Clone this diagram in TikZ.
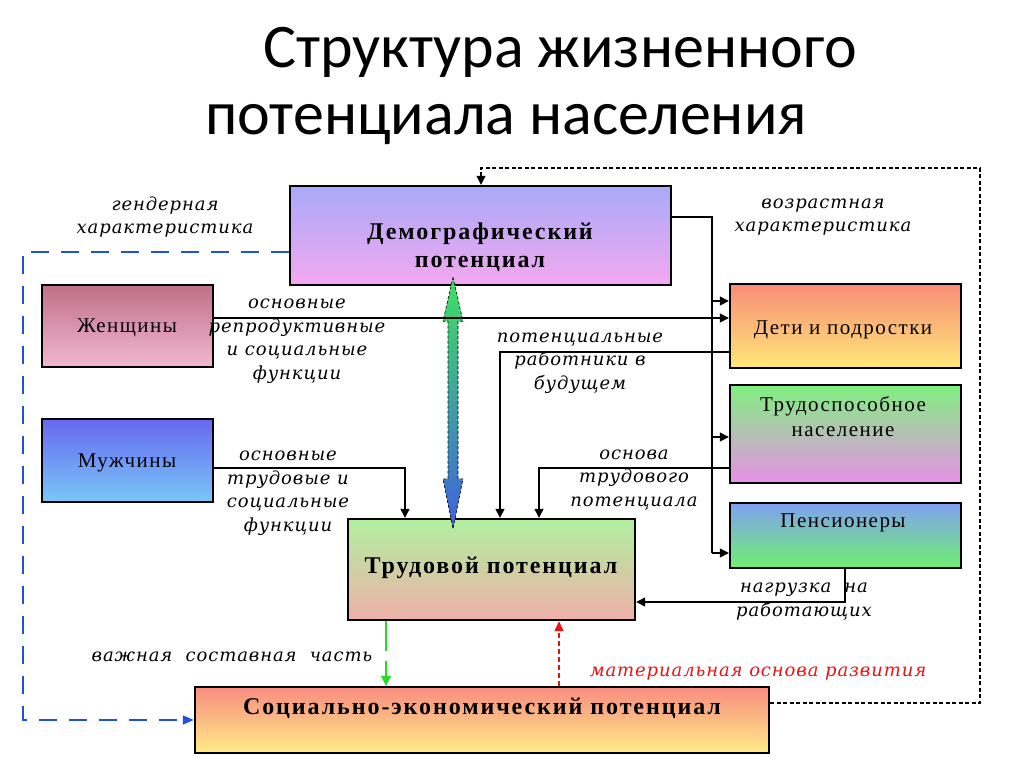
\documentclass[tikz,border=0pt]{standalone}
\usepackage{fontspec}
\setmainfont{Liberation Serif}
\newfontfamily\titlefont{Carlito}
\newfontfamily\lblfont[LetterSpace=5]{DejaVu Serif}
\newfontfamily\boxfont[LetterSpace=7]{Liberation Serif}
\newfontfamily\boxbold[LetterSpace=8]{Liberation Serif}
\usetikzlibrary{arrows.meta,calc}
\definecolor{demoT}{HTML}{A8AAF8}
\definecolor{demoB}{HTML}{F4A8F0}
\definecolor{womT}{HTML}{C07088}
\definecolor{womB}{HTML}{F0B8D0}
\definecolor{menT}{HTML}{6868F0}
\definecolor{menB}{HTML}{78C8F8}
\definecolor{kidT}{HTML}{F88C78}
\definecolor{kidB}{HTML}{FFE878}
\definecolor{ableT}{HTML}{80F080}
\definecolor{ableM}{HTML}{C4C0B4}
\definecolor{ableB}{HTML}{E890E8}
\definecolor{penT}{HTML}{80A0F0}
\definecolor{penB}{HTML}{70F070}
\definecolor{labT}{HTML}{B0F0A0}
\definecolor{labB}{HTML}{F0B0A8}
\definecolor{socT}{HTML}{F88C80}
\definecolor{socB}{HTML}{FFEC88}
\definecolor{dashblue}{HTML}{2050E0}
\definecolor{arrgreen}{HTML}{22DD22}
\definecolor{arrred}{HTML}{EE1111}
\definecolor{dblT}{HTML}{40E060}
\definecolor{dblB}{HTML}{4060E0}
\begin{document}
\begin{tikzpicture}[x=1pt,y=-1pt,
  box/.style={draw=black,line width=2.4pt,inner sep=0pt},
  conn/.style={draw=black,line width=1.3pt},
  arr/.style={conn,-{Triangle[length=9pt,width=9pt]}},
  lbl/.style={font=\lblfont\itshape\fontsize{18}{23.5}\selectfont,align=center,inner sep=0pt},
  btxt/.style={font=\boxfont\fontsize{21}{25}\selectfont,align=center,inner sep=0pt},
  bbold/.style={font=\boxbold\bfseries\fontsize{24}{28}\selectfont,align=center,inner sep=0pt},
  ttl/.style={anchor=base,font=\titlefont\fontsize{62}{62}\selectfont,inner sep=0pt}
]
\useasboundingbox[fill=white] (0,0) rectangle (1024,767);

% title
\node[ttl] (t1) at (560,68) {Структура жизненного};
\node[ttl] (t2) at (506,135) {потенциала населения};

% boxes
\node[box,top color=demoT,bottom color=demoB,minimum width=381pt,minimum height=99pt] (demo) at (480.5,235.5) {};
\node[box,top color=womT,bottom color=womB,minimum width=171pt,minimum height=82pt] (women) at (127.5,326) {};
\node[box,top color=menT,bottom color=menB,minimum width=171pt,minimum height=83pt] (men) at (127.5,460.5) {};
\node[box,top color=kidT,bottom color=kidB,minimum width=231pt,minimum height=84pt] (kids) at (845.5,326) {};
\node[box,top color=ableT,middle color=ableM,bottom color=ableB,minimum width=231pt,minimum height=98pt] (able) at (845.5,434) {};
\node[box,top color=penT,bottom color=penB,minimum width=231pt,minimum height=65pt] (pens) at (845.5,535.5) {};
\node[box,top color=labT,bottom color=labB,minimum width=287pt,minimum height=101pt] (labour) at (491.5,569.5) {};
\node[box,top color=socT,bottom color=socB,minimum width=574pt,minimum height=66pt] (socio) at (482,720) {};

% box texts
\node[bbold] (demoL) at (480,247) {Демографический\\потенциал};
\node[btxt] (womenL) at (127,328) {Женщины};
\node[btxt] (menL) at (127,463) {Мужчины};
\node[btxt] (kidsL) at (843,330) {Дети и подростки};
\node[btxt] (ableL) at (843,417) {Трудоспособное\\население};
\node[btxt] (pensL) at (843,523) {Пенсионеры};
\node[bbold] (labourL) at (491,568) {Трудовой потенциал};
\node[bbold] (socioL) at (482,708) {Социально-экономический потенциал};

% double gradient arrow
\coordinate (dT) at ($(demo.south -| 453,0)+(0,-9)$);
\coordinate (dB) at ($(labour.north -| 453,0)+(0,11)$);
\shade[top color=dblT,bottom color=dblB,draw=black,densely dashed,line width=0.6pt]
  (dT) -- ++(10,44) -- ++(-5,0) -- ($(dB)+(5,-50)$) -- ++(5,0) -- (dB)
  -- ++(-10,-50) -- ++(5,0) -- ($(dT)+(-5,44)$) -- ++(-5,0) -- cycle;

% connectors
\coordinate (busT) at (712,217);
\coordinate (busB) at (712,553);
\coordinate (b1) at (712,301);
\coordinate (b2) at (712,437);
\draw[conn] (demo.east |- busT) -- (busT) -- (busB);
\draw[arr] (b1) -- (b1 -| kids.west);
\draw[arr] (b2) -- (b2 -| able.west);
\draw[arr] (busB) -- (busB -| pens.west);

\draw[arr] (women.east |- 0,318) -- (kids.west |- 0,318);
\draw[arr] (kids.west |- 0,352) -- (500,352) -- (labour.north -| 500,0);
\draw[arr] (able.west |- 0,468) -- (539,468) -- (labour.north -| 539,0);
\draw[arr] (men.east |- 0,468) -- (405,468) -- (labour.north -| 405,0);
\draw[arr] (pens.south -| 845,0) -- (845,602) -- (labour.east |- 0,602);

\draw[dashblue,line width=1.8pt,dash pattern=on 18pt off 12pt,-{Triangle[length=11pt,width=9pt]}]
  (demo.west |- 0,252) -- (23,252) -- (23,720) -- (socio.west);
\draw[black,line width=1.2pt,dash pattern=on 4pt off 2.5pt,-{Triangle[length=9pt,width=9pt]}]
  (socio.east |- 0,703) -- (980,703) -- (980,168) -- (481,168) -- (demo.north -| 481,0);
\draw[arrgreen,line width=1.3pt,dash pattern=on 30pt off 10pt,-{Triangle[length=10pt,width=10pt]}]
  (labour.south -| 386,0) -- (socio.north -| 386,0);
\draw[arrred,line width=1.3pt,dash pattern=on 5pt off 3pt,-{Triangle[length=10pt,width=9pt]}]
  (socio.north -| 559,0) -- (labour.south -| 559,0);

% labels
\node[lbl] (lg) at (165,217) {гендерная\\характеристика};
\node[lbl] (la) at (823,217) {возрастная\\характеристика};
\node[lbl] (lw) at (297,341) {основные\\репродуктивные\\и социальные\\функции};
\node[lbl] (lm) at (288,493) {основные\\трудовые и\\социальные\\функции};
\node[lbl] (lp) at (580,363) {потенциальные\\работники в\\будущем};
\node[lbl] (lo) at (634,480) {основа\\трудового\\потенциала};
\node[lbl] (ln) at (804,601.5) {нагрузка\ \ на\\работающих};
\node[lbl] (lv) at (232,657) {важная\ \ составная\ \ часть};
\node[lbl,text=arrred] (lr) at (758,674) {материальная\ основа развития};
\end{tikzpicture}
\end{document}
